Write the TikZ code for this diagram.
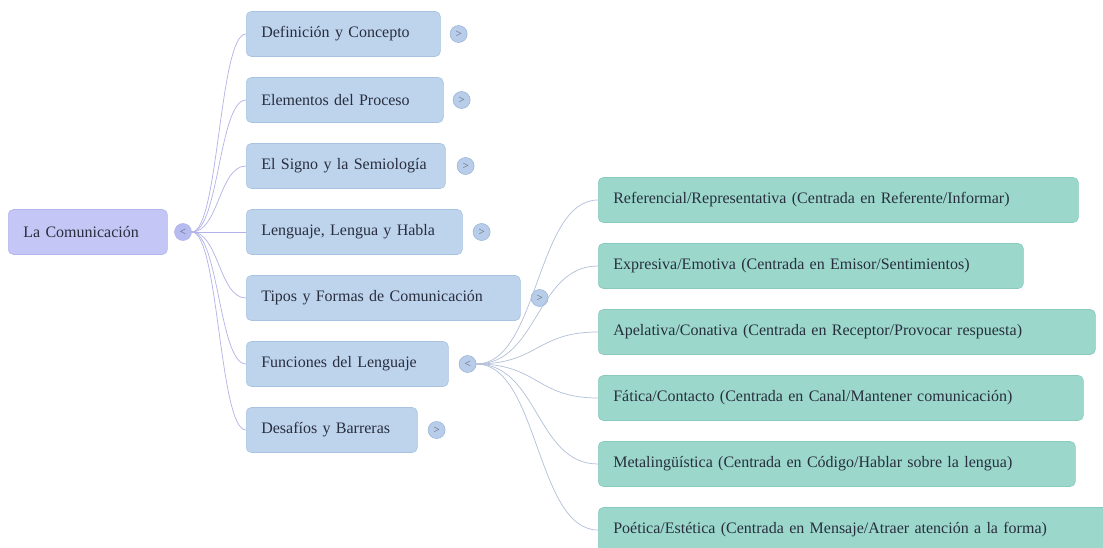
\documentclass[tikz,border=0pt]{standalone}
\usepackage{fontspec}
\setmainfont{Liberation Serif}
\definecolor{rootfill}{RGB}{196,199,245}
\definecolor{rootline}{RGB}{178,182,236}
\definecolor{onefill}{RGB}{190,212,237}
\definecolor{oneline}{RGB}{168,194,226}
\definecolor{twofill}{RGB}{155,216,203}
\definecolor{twoline}{RGB}{138,202,190}
\definecolor{txt}{RGB}{40,46,62}
\definecolor{rootlink}{RGB}{178,178,232}
\definecolor{funclink}{RGB}{178,192,216}
\definecolor{knobfill}{RGB}{184,205,233}
\definecolor{knobline}{RGB}{156,182,216}
\definecolor{rootknob}{RGB}{182,187,240}
\begin{document}
\begin{tikzpicture}[x=1pt,y=-1pt,
  base/.style={rounded corners=5pt, minimum height=45pt, inner xsep=15pt,
    inner ysep=0pt, anchor=west, align=left,
    font=\fontsize{16}{19}\selectfont, text=txt, line width=0.6pt},
  rootbox/.style={base, fill=rootfill, draw=rootline, text width=#1},
  onebox/.style={base, fill=onefill, draw=oneline, text width=#1},
  twobox/.style={base, fill=twofill, draw=twoline, text width=#1},
  knob/.style={circle, minimum size=17pt, inner sep=0pt, fill=knobfill,
    draw=knobline, line width=0.6pt, text=txt!75,
    font=\fontsize{11}{11}\selectfont},
  rlink/.style={draw=rootlink, line width=0.7pt},
  flink/.style={draw=funclink, line width=0.7pt}]

\clip (0,0) rectangle (1103,548);
\fill[white] (0,0) rectangle (1103,548);

% root
\node[rootbox=129pt] (root) at (8,232) {La Comunicación};
\node[knob, fill=rootknob, draw=rootline] (rk) at (183,232) {<};

% first level
\node[onebox=164pt] (d1) at (246,34)  {Definición y Concepto};
\node[onebox=167pt] (d2) at (246,100) {Elementos del Proceso};
\node[onebox=169pt] (d3) at (246,166) {El Signo y la Semiología};
\node[onebox=186pt] (d4) at (246,232) {Lenguaje, Lengua y Habla};
\node[onebox=244pt] (d5) at (246,298) {Tipos y Formas de Comunicación};
\node[onebox=172pt] (d6) at (246,364) {Funciones del Lenguaje};
\node[onebox=141pt] (d7) at (246,430) {Desafíos y Barreras};

\node[knob] (k1) at ([xshift=18pt]d1.east) {>};
\node[knob] (k2) at ([xshift=18pt]d2.east) {>};
\node[knob] (k3) at ([xshift=20pt]d3.east) {>};
\node[knob] (k4) at ([xshift=19pt]d4.east) {>};
\node[knob] (k5) at ([xshift=19pt]d5.east) {>};
\node[knob] (k6) at ([xshift=19pt]d6.east) {<};
\node[knob] (k7) at ([xshift=19pt]d7.east) {>};

% second level: functions of language
\node[twobox=450pt] (f1) at (598,200) {Referencial/Representativa (Centrada en Referente/Informar)};
\node[twobox=395pt] (f2) at (598,266) {Expresiva/Emotiva (Centrada en Emisor/Sentimientos)};
\node[twobox=467pt] (f3) at (598,332) {Apelativa/Conativa (Centrada en Receptor/Provocar respuesta)};
\node[twobox=455pt] (f4) at (598,398) {Fática/Contacto (Centrada en Canal/Mantener comunicación)};
\node[twobox=447pt] (f5) at (598,464) {Metalingüística (Centrada en Código/Hablar sobre la lengua)};
\node[twobox=485pt] (f6) at (598,530) {Poética/Estética (Centrada en Mensaje/Atraer atención a la forma)};

% connectors from the root
\foreach \n in {d1,d2,d3,d4,d5,d6,d7}
  \draw[rlink] (rk.east) .. controls +(27,0) and +(-27,0) .. (\n.west);

% connectors from the functions node
\foreach \n in {f1,f2,f3,f4,f5,f6}
  \draw[flink] (k6.east) .. controls +(62,0) and +(-62,0) .. (\n.west);

\end{tikzpicture}
\end{document}
